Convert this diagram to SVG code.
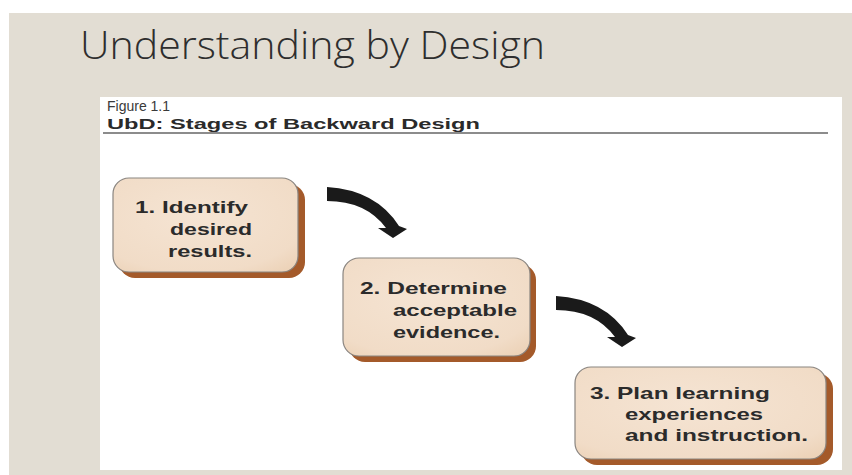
<svg xmlns="http://www.w3.org/2000/svg" width="852" height="475" viewBox="0 0 852 475">
<defs>
<style>
.title{font-family:"Open Sans","Liberation Sans",sans-serif;font-weight:300;font-size:38px;fill:#2e2e2e}
.fig{font-family:"Liberation Sans",Arial,sans-serif;font-size:14px;fill:#3a3a3a}
.hdr{font-family:"Liberation Sans",Arial,sans-serif;font-size:15.5px;font-weight:bold;fill:#2a2a2a}
.lbl{font-family:"Liberation Sans",Arial,sans-serif;font-size:17px;font-weight:bold;fill:#2b2b2b}
.box{fill:url(#peach);stroke:#8a8580;stroke-width:1.2}
.shadow{fill:#a45a2a}
.arrow{fill:#1a1a1a}
</style>
<radialGradient id="peach" cx="0.45" cy="0.4" r="0.8">
<stop offset="0" stop-color="#f5e4d3"/>
<stop offset="0.75" stop-color="#f1dcc7"/>
<stop offset="1" stop-color="#ebd0b4"/>
</radialGradient>
<path id="arr" d="M0,-1 Q49,2 72,38 L80,41 L66,50 L51,40 L59,40 Q39,13 0,13 Z"/>
</defs>
<rect x="0" y="0" width="852" height="475" fill="#ffffff"/>
<rect x="9" y="13" width="843" height="462" fill="#e2ddd3"/>
<text class="title" x="80" y="59" textLength="465" lengthAdjust="spacingAndGlyphs">Understanding by Design</text>
<rect x="100" y="97" width="742" height="373" fill="#ffffff"/>
<text class="fig" x="107" y="111">Figure 1.1</text>
<text class="hdr" x="107" y="129" textLength="373" lengthAdjust="spacingAndGlyphs">UbD: Stages of Backward Design</text>
<line x1="103" y1="133" x2="828" y2="133" stroke="#666" stroke-width="1.5"/>
<g id="connectors">
<use href="#arr" class="arrow" x="327" y="188"/>
<use href="#arr" class="arrow" x="556" y="297"/>
</g>
<g id="node1">
<rect class="shadow" x="119" y="184" width="186" height="94" rx="16"/>
<rect class="box" x="113" y="178" width="185" height="94" rx="16"/>
<text class="lbl" x="135" y="213" textLength="113" lengthAdjust="spacingAndGlyphs">1. Identify</text>
<text class="lbl" x="170" y="235" textLength="82" lengthAdjust="spacingAndGlyphs">desired</text>
<text class="lbl" x="168" y="257" textLength="84" lengthAdjust="spacingAndGlyphs">results.</text>
</g>
<g id="node2">
<rect class="shadow" x="349" y="264" width="187" height="98" rx="16"/>
<rect class="box" x="343" y="258" width="187" height="98" rx="16"/>
<text class="lbl" x="360" y="294" textLength="147" lengthAdjust="spacingAndGlyphs">2. Determine</text>
<text class="lbl" x="393" y="316" textLength="124" lengthAdjust="spacingAndGlyphs">acceptable</text>
<text class="lbl" x="393" y="338" textLength="107" lengthAdjust="spacingAndGlyphs">evidence.</text>
</g>
<g id="node3">
<rect class="shadow" x="581" y="373" width="252" height="92" rx="16"/>
<rect class="box" x="575" y="367" width="251" height="92" rx="16"/>
<text class="lbl" x="590" y="399" textLength="180" lengthAdjust="spacingAndGlyphs">3. Plan learning</text>
<text class="lbl" x="625" y="420" textLength="138" lengthAdjust="spacingAndGlyphs">experiences</text>
<text class="lbl" x="625" y="441" textLength="183" lengthAdjust="spacingAndGlyphs">and instruction.</text>
</g>
</svg>
